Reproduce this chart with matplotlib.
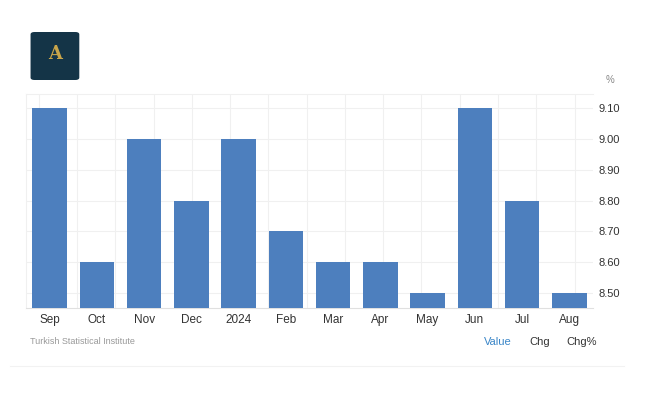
import matplotlib
matplotlib.use("Agg")
from matplotlib import pyplot as plt
from matplotlib.patches import FancyBboxPatch
import numpy as np

# monthly values, Sep 2023 - Aug 2024 (%)
months = ["Sep", "Oct", "Nov", "Dec", "2024", "Feb", "Mar", "Apr", "May", "Jun", "Jul", "Aug"]
values = [9.1, 8.6, 9.0, 8.8, 9.0, 8.7, 8.6, 8.6, 8.5, 9.1, 8.8, 8.5]
y_ticks = [8.5, 8.6, 8.7, 8.8, 8.9, 9.0, 9.1]

plt.rcParams["font.family"] = ["Liberation Sans", "DejaVu Sans"]

fig = plt.figure(figsize=(6.5, 4), dpi=100)
ax = fig.add_axes([0.04, 0.23, 0.8723, 0.535])

x = np.arange(len(months))
base = 8.452
ax.bar(x, np.array(values) - base, bottom=base, width=0.73, color="#4d7fbe", zorder=3)

ax.set_xlim(-0.5, len(months) - 0.5)
ax.set_ylim(base, 9.145)

ax.set_yticks(y_ticks)
ax.set_yticklabels(["%.2f" % v for v in y_ticks])
ax.yaxis.tick_right()
ax.tick_params(axis="y", length=0, pad=4, labelsize=8, labelcolor="#333333")
ax.set_xticks(x)
ax.set_xticklabels(months)
ax.tick_params(axis="x", length=0, pad=4, labelsize=8.5, labelcolor="#333333")

# faint grid
ax.set_xticks(np.arange(-0.23, 11.5, 0.81), minor=True)
ax.tick_params(axis="x", which="minor", length=0)
ax.grid(True, which="minor", axis="x", color="#f0f0f0", linewidth=0.8, zorder=0)
ax.grid(True, which="major", axis="y", color="#f0f0f0", linewidth=0.8, zorder=0)

for side in ["right"]:
    ax.spines[side].set_visible(False)
ax.spines["top"].set_color("#f0f0f0")
ax.spines["left"].set_color("#f0f0f0")
ax.spines["bottom"].set_color("#e0e0e0")

fig.text(0.938, 0.8, "%", fontsize=7, color="#888888", ha="center", va="center")

# logo placeholder
logo = FancyBboxPatch((0.047, 0.8), 0.075, 0.12, boxstyle="round,pad=0,rounding_size=0.006",
                      transform=fig.transFigure, facecolor="#143447", edgecolor="none")
fig.patches.append(logo)
fig.text(0.0845, 0.865, "A", fontsize=13, color="#c9a54a", ha="center", va="center",
         fontweight="bold", family="DejaVu Serif")

# footer
fig.text(0.046, 0.145, "Turkish Statistical Institute", fontsize=6.5, color="#999999",
         ha="left", va="center")
fig.text(0.766, 0.145, "Value", fontsize=8, color="#3a86c8", ha="center", va="center")
fig.text(0.831, 0.145, "Chg", fontsize=8, color="#333333", ha="center", va="center")
fig.text(0.895, 0.145, "Chg%", fontsize=8, color="#333333", ha="center", va="center")
fig.add_artist(plt.Line2D([0.015, 0.96], [0.085, 0.085], color="#f2f2f2", linewidth=0.8,
                          transform=fig.transFigure))

fig.savefig("out.png", dpi=100)
